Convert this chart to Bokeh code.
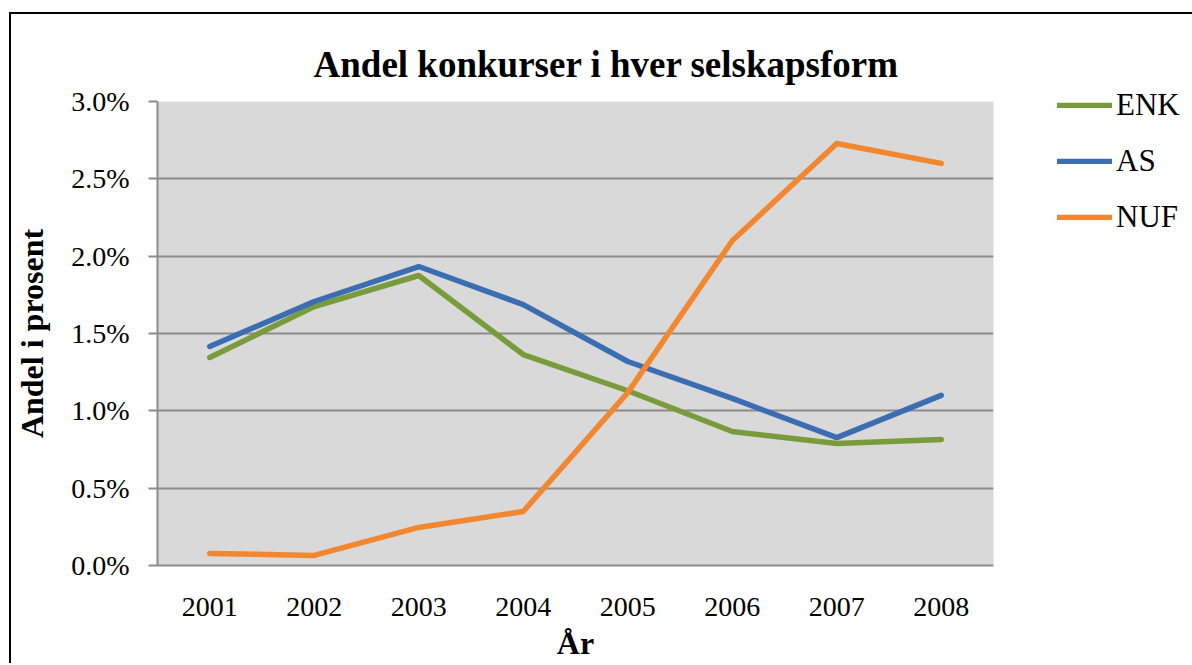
from bokeh.plotting import figure
from bokeh.models import (FactorRange, Range1d, NumeralTickFormatter, Legend, LegendItem,
                          FixedTicker, Title, InlineStyleSheet)
from bokeh.embed import file_html
from bokeh.resources import INLINE

years = ["2001", "2002", "2003", "2004", "2005", "2006", "2007", "2008"]
enk = [0.01345, 0.01674, 0.01875, 0.01364, 0.0113, 0.00866, 0.00789, 0.00815]
as_ = [0.01416, 0.01707, 0.01933, 0.01687, 0.01319, 0.0108, 0.00827, 0.0110]
nuf = [0.00078, 0.00065, 0.00246, 0.00349, 0.01118, 0.0210, 0.02728, 0.0260]
y_ticks = [0.0, 0.005, 0.01, 0.015, 0.02, 0.025, 0.03]

SERIF = "Liberation Serif"
GRAY = "#8c8c8c"

p = figure(width=None, height=None, frame_width=836, frame_height=464,
           x_range=FactorRange(*years), y_range=Range1d(0, 0.03),
           output_backend="svg", toolbar_location=None,
           min_border_left=157, min_border_right=191, min_border_top=101, min_border_bottom=92)

p.background_fill_color = "#d9d9d9"
p.border_fill_color = "white"
p.outline_line_color = None

p.title = Title(text="Andel konkurser i hver selskapsform", align="left", offset=156,
                standoff=33,
                text_font=SERIF, text_font_style="bold", text_font_size="37px",
                text_color="black")

# y axis
p.yaxis.ticker = FixedTicker(ticks=y_ticks)
p.yaxis.formatter = NumeralTickFormatter(format="0.0%")
p.yaxis.major_label_text_font = SERIF
p.yaxis.major_label_text_font_size = "28px"
p.yaxis.major_label_text_color = "black"
p.yaxis.major_tick_out = 9
p.yaxis.major_tick_in = 0
p.yaxis.minor_tick_line_color = None
p.yaxis.major_tick_line_color = GRAY
p.yaxis.major_tick_line_width = 2
p.yaxis.axis_line_color = GRAY
p.yaxis.axis_line_width = 2
p.yaxis.major_label_standoff = 19
p.yaxis.axis_label = "Andel i prosent"
p.yaxis.axis_label_text_font = SERIF
p.yaxis.axis_label_text_font_style = "bold"
p.yaxis.axis_label_text_font_size = "32px"
p.yaxis.axis_label_text_color = "black"
p.yaxis.axis_label_standoff = 18

# x axis
p.xaxis.major_label_text_font = SERIF
p.xaxis.major_label_text_font_size = "28px"
p.xaxis.major_label_text_color = "black"
p.xaxis.major_tick_out = 0
p.xaxis.major_tick_in = 0
p.xaxis.minor_tick_line_color = None
p.xaxis.major_tick_line_color = None
p.xaxis.axis_line_color = GRAY
p.xaxis.axis_line_width = 2
p.xaxis.major_label_standoff = 32
p.xaxis.axis_label = "År"
p.xaxis.axis_label_text_font = SERIF
p.xaxis.axis_label_text_font_style = "bold"
p.xaxis.axis_label_text_font_size = "32px"
p.xaxis.axis_label_text_color = "black"
p.xaxis.axis_label_standoff = 6

p.xgrid.grid_line_color = None
p.ygrid.grid_line_color = GRAY
p.ygrid.grid_line_width = 2
p.ygrid.ticker = FixedTicker(ticks=y_ticks)

r_enk = p.line(years, enk, line_color="#789b3c", line_width=5.5, line_cap="round", line_join="round")
r_as = p.line(years, as_, line_color="#3a6db1", line_width=5.5, line_cap="round", line_join="round")
r_nuf = p.line(years, nuf, line_color="#f2872f", line_width=5.5, line_cap="round", line_join="round")

legend = Legend(items=[LegendItem(label="ENK", renderers=[r_enk]),
                       LegendItem(label="AS", renderers=[r_as]),
                       LegendItem(label="NUF", renderers=[r_nuf])],
                location=(64, 330), orientation="vertical",
                glyph_width=55, glyph_height=6, label_height=6, label_width=68,
                label_standoff=4, spacing=20, padding=0, margin=0,
                label_text_font=SERIF, label_text_font_size="31px", label_text_color="black",
                border_line_color=None, background_fill_alpha=0)
p.add_layout(legend, "right")

# outer chart border (left and top edges visible; right/bottom lie beyond the view)
p.stylesheets = [InlineStyleSheet(css=(
    ":host { overflow: hidden; }"
    ":host::after { content: ''; position: absolute; left: 9px; top: 12px; right: -40px; bottom: -40px;"
    " border-left: 2px solid #000; border-top: 2px solid #000; pointer-events: none; }"))]

open("out.html", "w").write(file_html(p, INLINE))
